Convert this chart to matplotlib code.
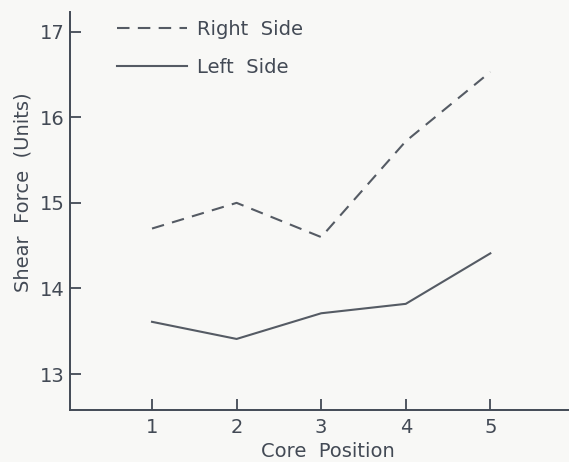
import matplotlib
matplotlib.use("Agg")
import matplotlib.pyplot as plt

# core positions and shear force readings
posicoes = [1, 2, 3, 4, 5]
lado_direito = [14.70, 15.00, 14.60, 15.72, 16.53]
lado_esquerdo = [13.61, 13.41, 13.71, 13.82, 14.41]

cor = '#434a55'
fundo = '#f8f8f6'

fig = plt.figure(figsize=(5.69, 4.62), dpi=100, facecolor=fundo)
ax = fig.add_axes([0.123, 0.1126, 0.877, 0.8614], facecolor=fundo)

ax.plot(posicoes, lado_direito, color='#555b64', linewidth=1.5, dashes=(6, 4), label='Right  Side')
ax.plot(posicoes, lado_esquerdo, color='#555b64', linewidth=1.5, label='Left  Side')

ax.set_xlim(0.03, 5.93)
ax.set_ylim(12.58, 17.23)
ax.set_xticks(posicoes)
ax.set_yticks([13, 14, 15, 16, 17])

for s in ['top', 'right']:
    ax.spines[s].set_visible(False)
for s in ['left', 'bottom']:
    ax.spines[s].set_color(cor)
    ax.spines[s].set_linewidth(1.4)

ax.tick_params(axis='both', direction='in', length=8, width=1.3, color=cor,
               labelcolor=cor, labelsize=14, pad=4)
ax.tick_params(axis='x', pad=6)

ax.set_xlabel('Core  Position', fontsize=14, color=cor)
ax.set_ylabel('Shear  Force  (Units)', fontsize=14, color=cor)
ax.xaxis.set_label_coords(0.517, -0.08)
ax.yaxis.set_label_coords(-0.075, 0.548)

leg = ax.legend(loc='upper left', bbox_to_anchor=(0.06, 1.025), frameon=False,
                fontsize=14, handlelength=3.6, handletextpad=0.5, labelspacing=1.0)
for t in leg.get_texts():
    t.set_color(cor)

fig.savefig('out.png', dpi=100, facecolor=fundo)
